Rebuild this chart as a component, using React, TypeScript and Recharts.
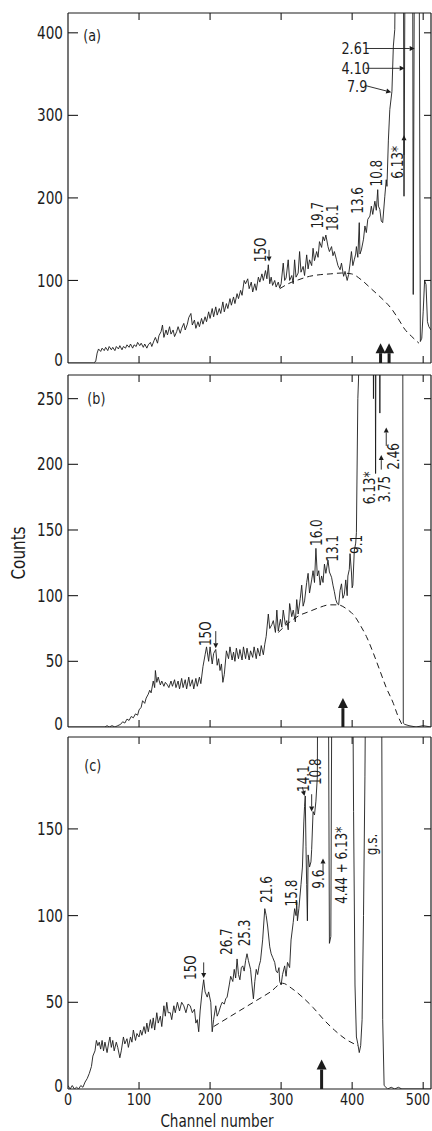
import { Line, LineChart, ReferenceDot, ReferenceLine, XAxis, YAxis } from 'recharts';

const FONT = "'DejaVu Sans', 'Liberation Sans', sans-serif";
const INK = '#1c1c1c';
const NARROW = 0.8; // the original lettering is tall and narrow

type Pair = [number, number];
type Note = { ch: number; count: number; text: string; flat?: boolean };
type Pointer = { from: Pair; to: Pair };

// channel axis shared by the three panels
const channelDomain: [number, number] = [0, 511];
const channelTicks = [0, 100, 200, 300, 400, 500];

const countTicksA = [0, 100, 200, 300, 400];
const countTicksB = [0, 50, 100, 150, 200, 250];
const countTicksC = [0, 50, 100, 150];

// (a) spectrum, [channel, counts]; off-scale peaks run past the top
const spectrumA: Pair[] = [
	[0, 0], [36, 0], [39, 2], [41, 12], [43, 17], [46, 14], [48, 18], [51, 15], [53, 19], [56, 15], [58, 20], [61, 16],
	[63, 19], [66, 15], [68, 20], [71, 17], [73, 21], [76, 16], [78, 20], [81, 18], [83, 22], [86, 19], [88, 23], [91, 18],
	[93, 22], [96, 20], [98, 25], [101, 21], [103, 24], [106, 19], [108, 23], [111, 18], [113, 22], [116, 25], [118, 20],
	[121, 27], [123, 31], [126, 24], [128, 33], [131, 38], [133, 46], [135, 31], [138, 40], [140, 34], [143, 44], [145, 35],
	[148, 40], [150, 32], [153, 38], [155, 44], [158, 36], [160, 42], [163, 48], [165, 40], [168, 47], [170, 55], [173, 60],
	[175, 46], [178, 52], [180, 42], [183, 50], [185, 44], [188, 54], [190, 47], [193, 56], [195, 50], [198, 62], [200, 54],
	[203, 66], [205, 56], [208, 68], [210, 58], [213, 66], [215, 60], [218, 74], [220, 62], [223, 72], [225, 66], [228, 78],
	[230, 70], [233, 80], [235, 72], [238, 84], [240, 78], [243, 88], [245, 82], [248, 100], [250, 96], [253, 102], [255, 90],
	[258, 98], [260, 86], [263, 96], [265, 88], [268, 104], [270, 98], [273, 108], [275, 100], [278, 112], [280, 102],
	[282, 119], [284, 96], [286, 104], [288, 94], [291, 100], [293, 92], [296, 98], [298, 91], [300, 96], [303, 121],
	[305, 100], [307, 103], [310, 125], [312, 100], [315, 106], [317, 96], [319, 125], [321, 104], [324, 109], [326, 135],
	[328, 110], [331, 117], [333, 106], [336, 131], [338, 114], [340, 125], [343, 118], [345, 139], [347, 124], [350, 135],
	[352, 128], [354, 147], [357, 140], [359, 153], [361, 148], [363, 155], [366, 141], [368, 135], [371, 141], [373, 130],
	[375, 135], [378, 125], [380, 118], [383, 113], [385, 121], [388, 105], [390, 111], [393, 100], [395, 107], [397, 120],
	[399, 135], [401, 118], [403, 125], [405, 132], [406, 141], [408, 128], [410, 170], [411, 132], [413, 137], [416, 150],
	[418, 166], [420, 158], [422, 174], [425, 178], [427, 190], [429, 180], [432, 196], [434, 185], [436, 210], [437, 190],
	[439, 186], [441, 172], [443, 170], [446, 202], [448, 222], [449, 214], [451, 270], [453, 307], [456, 329], [458, 384],
	[460, 404], [462, 600], [472, 600], [473, 202], [475, 600], [485, 600], [486, 83], [488, 600], [494, 600], [496, 26],
	[498, 30], [500, 62], [502, 100], [504, 95], [506, 50], [508, 44], [511, 40],
];
const backgroundA: Pair[] = [
	[298, 90], [310, 96], [325, 101], [340, 105], [355, 107], [370, 108], [385, 109], [399, 108], [414, 100], [428, 89],
	[442, 78], [456, 65], [466, 52], [474, 41], [484, 32], [494, 24],
];
const notesA: Note[] = [
	{ ch: 34, count: 397, text: '(a)', flat: true },
	{ ch: 271, count: 137, text: '15O' },
	{ ch: 351, count: 179, text: '19.7' },
	{ ch: 372, count: 176, text: '18.1' },
	{ ch: 407, count: 197, text: '13.6' },
	{ ch: 435, count: 230, text: '10.8' },
	{ ch: 464, count: 243, text: '6.13*' },
	{ ch: 405, count: 381, text: '2.61', flat: true },
	{ ch: 405, count: 357, text: '4.10', flat: true },
	{ ch: 407, count: 335, text: '7.9', flat: true },
];
const pointersA: Pointer[] = [
	{ from: [283, 137], to: [283, 123] },
	{ from: [473, 252], to: [473, 276] },
	{ from: [419, 381], to: [488, 381] },
	{ from: [419, 357], to: [474, 357] },
	{ from: [419, 336], to: [455, 328] },
];
const bigArrowsA: Pair[] = [[440, 24], [452, 24]];

// (b)
const spectrumB: Pair[] = [
	[0, 0], [52, 0], [55, 1], [58, 0], [62, 1], [66, 0], [70, 1], [74, 2], [77, 4], [80, 3], [83, 6], [86, 5], [89, 8],
	[92, 7], [95, 10], [98, 9], [100, 13], [103, 15], [105, 20], [108, 18], [110, 22], [113, 25], [115, 28], [117, 26],
	[120, 35], [122, 30], [123, 43], [125, 34], [127, 38], [130, 32], [132, 35], [135, 31], [137, 34], [140, 32], [142, 30],
	[145, 35], [147, 31], [150, 36], [152, 30], [155, 35], [157, 29], [160, 37], [162, 30], [165, 36], [167, 29], [170, 38],
	[172, 31], [175, 36], [177, 29], [180, 37], [182, 31], [185, 38], [187, 33], [190, 46], [193, 55], [195, 61], [198, 50],
	[200, 61], [203, 48], [205, 56], [208, 59], [210, 47], [212, 52], [214, 43], [216, 48], [218, 34], [220, 40], [223, 58],
	[226, 52], [228, 61], [231, 51], [233, 57], [235, 50], [237, 60], [240, 52], [242, 59], [245, 51], [247, 61], [250, 52],
	[252, 60], [255, 51], [257, 58], [260, 53], [262, 61], [265, 52], [267, 60], [270, 54], [272, 62], [275, 55], [277, 63],
	[279, 69], [282, 86], [284, 75], [287, 78], [289, 81], [292, 72], [294, 89], [296, 73], [299, 82], [301, 76], [303, 89],
	[306, 78], [308, 81], [310, 74], [312, 94], [315, 84], [317, 89], [320, 80], [322, 97], [324, 86], [327, 98], [329, 108],
	[331, 92], [333, 96], [336, 110], [338, 117], [340, 102], [343, 112], [345, 119], [347, 110], [349, 136], [351, 115],
	[353, 119], [355, 108], [357, 115], [359, 110], [361, 124], [363, 117], [366, 127], [368, 118], [371, 114], [373, 108],
	[375, 103], [377, 97], [379, 94], [381, 93], [383, 104], [385, 109], [387, 98], [389, 101], [391, 112], [393, 100],
	[394, 115], [396, 120], [397, 132], [399, 118], [400, 106], [401, 108], [403, 134], [405, 140], [406, 148], [408, 250],
	[409, 265], [411, 400], [429, 400], [430, 250], [431, 400], [432, 400], [433, 193], [434, 400], [438, 400], [439, 239],
	[440, 400], [471, 400], [472, 3], [474, 2], [480, 1], [490, 0], [500, 1], [511, 0],
];
const backgroundB: Pair[] = [
	[296, 72], [310, 79], [326, 85], [340, 88], [354, 91], [368, 93], [380, 93], [392, 90], [404, 84], [412, 77], [420, 69],
	[430, 56], [439, 43], [448, 30], [458, 18], [464, 9], [470, 2],
];
const notesB: Note[] = [
	{ ch: 40, count: 250, text: '(b)', flat: true },
	{ ch: 193, count: 71, text: '15O' },
	{ ch: 350, count: 148, text: '16.0' },
	{ ch: 373, count: 136, text: '13.1' },
	{ ch: 406, count: 139, text: '9.1' },
	{ ch: 425, count: 182, text: '6.13*' },
	{ ch: 446, count: 181, text: '3.75' },
	{ ch: 459, count: 206, text: '2.46' },
];
const pointersB: Pointer[] = [
	{ from: [208, 73], to: [208, 60] },
	{ from: [441, 196], to: [441, 207] },
	{ from: [448, 214], to: [448, 228] },
];
const bigArrowsB: Pair[] = [[387, 22]];

// (c)
const spectrumC: Pair[] = [
	[0, 2], [3, 0], [6, 2], [9, 0], [12, 1], [15, 0], [18, 2], [21, 1], [24, 4], [27, 6], [30, 9], [33, 13], [35, 19],
	[38, 22], [40, 28], [42, 25], [44, 27], [46, 23], [48, 28], [50, 22], [52, 27], [55, 21], [57, 26], [59, 30], [61, 24],
	[63, 28], [65, 22], [68, 27], [70, 24], [73, 18], [75, 22], [78, 30], [80, 26], [83, 29], [85, 24], [88, 30], [90, 27],
	[92, 34], [95, 28], [97, 32], [100, 30], [102, 34], [104, 31], [107, 36], [109, 32], [111, 38], [113, 33], [116, 40],
	[118, 35], [120, 41], [122, 34], [125, 44], [127, 38], [130, 42], [132, 36], [135, 48], [137, 42], [139, 50], [141, 44],
	[144, 44], [146, 40], [149, 48], [151, 44], [154, 50], [157, 45], [160, 50], [163, 48], [166, 44], [169, 49], [172, 48],
	[175, 44], [178, 46], [180, 38], [182, 40], [184, 33], [186, 45], [189, 57], [191, 63], [193, 56], [196, 53], [198, 56],
	[201, 50], [203, 33], [205, 40], [208, 48], [210, 42], [212, 44], [215, 48], [217, 50], [220, 49], [222, 52], [224, 53],
	[227, 60], [229, 65], [232, 62], [234, 69], [236, 64], [238, 75], [240, 66], [242, 63], [244, 70], [246, 71], [248, 68],
	[250, 74], [252, 78], [254, 74], [257, 69], [259, 60], [261, 52], [263, 62], [265, 69], [267, 66], [269, 71], [271, 74],
	[274, 86], [277, 104], [279, 100], [281, 94], [284, 82], [286, 78], [288, 76], [291, 73], [293, 68], [295, 67], [297, 70],
	[298, 62], [300, 60], [302, 66], [305, 71], [307, 65], [309, 73], [312, 70], [314, 86], [317, 96], [319, 104], [321, 100],
	[322, 108], [323, 97], [325, 104], [328, 118], [330, 128], [332, 154], [333, 163], [334, 169], [335, 140], [336, 118],
	[337, 97], [338, 135], [340, 128], [342, 131], [343, 138], [345, 160], [347, 158], [349, 166], [351, 180], [352, 300],
	[366, 300], [368, 84], [370, 88], [372, 300], [400, 300], [402, 160], [404, 60], [406, 30], [408, 26], [410, 21],
	[412, 25], [414, 40], [416, 100], [418, 180], [420, 300], [441, 300], [443, 40], [445, 2], [450, 0], [455, 1], [460, 0],
	[465, 1], [470, 0], [480, 0], [511, 0],
];
const backgroundC: Pair[] = [
	[205, 36], [225, 41], [245, 46], [265, 51], [285, 56], [302, 61], [315, 58], [330, 53], [345, 47], [360, 40], [375, 34],
	[390, 29], [408, 25],
];
const notesC: Note[] = [
	{ ch: 35, count: 187, text: '(c)', flat: true },
	{ ch: 172, count: 70, text: '15O' },
	{ ch: 223, count: 85, text: '26.7' },
	{ ch: 249, count: 90, text: '25.3' },
	{ ch: 280, count: 115, text: '21.6' },
	{ ch: 315, count: 113, text: '15.8' },
	{ ch: 331, count: 179, text: '14.1' },
	{ ch: 348, count: 183, text: '10.8' },
	{ ch: 353, count: 121, text: '9.6' },
	{ ch: 385, count: 129, text: '4.44 + 6.13*' },
	{ ch: 427, count: 141, text: 'g.s.' },
];
const pointersC: Pointer[] = [
	{ from: [191, 73], to: [191, 64] },
	{ from: [343, 170], to: [343, 160] },
	{ from: [359, 125], to: [359, 133] },
	{ from: [330, 174], to: [333, 169] },
];
const bigArrowsC: Pair[] = [[357, 17]];

const toRows = (pairs: Pair[]) => pairs.map(([ch, count]) => ({ ch, count }));

const frame = { stroke: INK, strokeWidth: 1.2 };

// text squeezed horizontally to look like the narrow lettering
const Narrow = ({ x, y, size, anchor = 'middle', rotate = false, children }: any) => (
	<g transform={`translate(${x} ${y})${rotate ? ' rotate(-90)' : ''} scale(${NARROW} 1)`}>
		<text x={0} y={0} dy='0.36em' textAnchor={anchor} fontSize={size} fontFamily={FONT} fill={INK}>
			{children}
		</text>
	</g>
);

const LeftTick = ({ x, y, payload }: any) => (
	<g>
		{payload.value !== 0 && <line x1={x} x2={x + 10} y1={y} y2={y} stroke={INK} strokeWidth={1.1} />}
		<Narrow x={x - 5} y={payload.value === 0 ? y - 3 : y} size={17} anchor='end'>
			{payload.value}
		</Narrow>
	</g>
);

const RightTick = ({ x, y, payload }: any) =>
	payload.value === 0 ? <g /> : <line x1={x - 7} x2={x} y1={y} y2={y} stroke={INK} strokeWidth={1.1} />;

const TopTick = ({ x, y, payload }: any) =>
	payload.value === 0 ? <g /> : <line x1={x} x2={x} y1={y} y2={y + 7} stroke={INK} strokeWidth={1.1} />;

const BottomTick = ({ x, y, payload, labelled }: any) => {
	const last = payload.value === channelTicks[channelTicks.length - 1];
	return (
		<g>
			{payload.value !== 0 && <line x1={x} x2={x} y1={y} y2={y - 7} stroke={INK} strokeWidth={1.1} />}
			{labelled && (
				<Narrow x={last ? x + 7 : x} y={y + 10} size={16} anchor={last ? 'end' : 'middle'}>
					{payload.value}
				</Narrow>
			)}
		</g>
	);
};

const noteShape = (note: Note) => (p: any) => (
	<Narrow x={p.cx ?? 0} y={p.cy ?? 0} size={note.flat ? 16 : 15} rotate={!note.flat}>
		{note.text}
	</Narrow>
);

const arrowShape = (weight: number, head: number) => (p: any) => {
	const { x1, y1, x2, y2 } = p;
	const a = Math.atan2(y2 - y1, x2 - x1);
	const bx = x2 - head * Math.cos(a);
	const by = y2 - head * Math.sin(a);
	const wx = -Math.sin(a) * head * 0.5;
	const wy = Math.cos(a) * head * 0.5;
	return (
		<g>
			<line x1={x1} y1={y1} x2={bx} y2={by} stroke={INK} strokeWidth={weight} />
			<path d={`M${x2},${y2}L${bx + wx},${by + wy}L${bx - wx},${by - wy}Z`} fill={INK} />
		</g>
	);
};

type PanelProps = {
	top: number;
	plotHeight: number;
	countMax: number;
	countTicks: number[];
	spectrum: Pair[];
	background: Pair[];
	notes: Note[];
	pointers: Pointer[];
	bigArrows: Pair[];
	showChannels?: boolean;
};

const Panel = ({ top, plotHeight, countMax, countTicks, spectrum, background, notes, pointers, bigArrows, showChannels }: PanelProps) => {
	const bottomH = showChannels ? 22 : 8;
	return (
		<div style={{ position: 'absolute', left: 0, top }}>
			<LineChart width={432} height={plotHeight + 1 + bottomH} margin={{ top: 0, right: 0, bottom: 0, left: 0 }}>
				<XAxis
					type='number'
					dataKey='ch'
					domain={channelDomain}
					ticks={channelTicks}
					interval={0}
					allowDataOverflow
					height={bottomH}
					tickSize={0}
					tickMargin={0}
					tickLine={false}
					axisLine={frame}
					tick={(p: any) => <BottomTick {...p} labelled={showChannels} />}
				/>
				<XAxis
					xAxisId='top'
					orientation='top'
					type='number'
					dataKey='ch'
					domain={channelDomain}
					ticks={channelTicks}
					interval={0}
					allowDataOverflow
					height={1}
					tickSize={0}
					tickMargin={0}
					tickLine={false}
					axisLine={frame}
					tick={(p: any) => <TopTick {...p} />}
				/>
				<YAxis
					type='number'
					domain={[0, countMax]}
					ticks={countTicks}
					interval={0}
					allowDataOverflow
					width={68}
					tickSize={0}
					tickMargin={0}
					tickLine={false}
					axisLine={frame}
					tick={(p: any) => <LeftTick {...p} />}
				/>
				<YAxis
					yAxisId='right'
					orientation='right'
					type='number'
					domain={[0, countMax]}
					ticks={countTicks}
					interval={0}
					allowDataOverflow
					width={1}
					tickSize={0}
					tickMargin={0}
					tickLine={false}
					axisLine={frame}
					tick={(p: any) => <RightTick {...p} />}
				/>
				<Line
					data={toRows(background)}
					dataKey='count'
					type='monotone'
					stroke={INK}
					strokeWidth={1}
					strokeDasharray='6 4'
					dot={false}
					isAnimationActive={false}
				/>
				<Line
					data={toRows(spectrum)}
					dataKey='count'
					type='linear'
					stroke={INK}
					strokeWidth={0.9}
					dot={false}
					isAnimationActive={false}
				/>
				{bigArrows.map(([ch, tip]) => (
					<ReferenceLine
						key={`big-${ch}`}
						segment={[{ x: ch, y: 0 }, { x: ch, y: tip }]}
						ifOverflow='visible'
						shape={arrowShape(3, 10)}
					/>
				))}
				{pointers.map((pt, i) => (
					<ReferenceLine
						key={`ptr-${i}`}
						segment={[{ x: pt.from[0], y: pt.from[1] }, { x: pt.to[0], y: pt.to[1] }]}
						ifOverflow='visible'
						shape={arrowShape(0.9, 5)}
					/>
				))}
				{notes.map((n) => (
					<ReferenceDot key={`note-${n.text}`} x={n.ch} y={n.count} ifOverflow='visible' shape={noteShape(n)} />
				))}
			</LineChart>
		</div>
	);
};

const App = () => (
	<div style={{ position: 'absolute', left: 0, top: 0, width: 432, height: 1131, background: '#fff', overflow: 'hidden' }}>
		<Panel
			top={12}
			plotHeight={350}
			countMax={424}
			countTicks={countTicksA}
			spectrum={spectrumA}
			background={backgroundA}
			notes={notesA}
			pointers={pointersA}
			bigArrows={bigArrowsA}
		/>
		<Panel
			top={374}
			plotHeight={352}
			countMax={268}
			countTicks={countTicksB}
			spectrum={spectrumB}
			background={backgroundB}
			notes={notesB}
			pointers={pointersB}
			bigArrows={bigArrowsB}
		/>
		<Panel
			top={736}
			plotHeight={352}
			countMax={203}
			countTicks={countTicksC}
			spectrum={spectrumC}
			background={backgroundC}
			notes={notesC}
			pointers={pointersC}
			bigArrows={bigArrowsC}
			showChannels
		/>
		<div
			style={{
				position: 'absolute',
				left: -22,
				top: 543,
				width: 80,
				height: 20,
				lineHeight: '20px',
				textAlign: 'center',
				transform: `rotate(-90deg) scaleX(${NARROW})`,
				fontFamily: FONT,
				fontSize: 19,
				color: INK,
			}}>
			Counts
		</div>
		<div
			style={{
				position: 'absolute',
				left: 117,
				top: 1112,
				width: 200,
				height: 18,
				lineHeight: '18px',
				textAlign: 'center',
				transform: `scaleX(${NARROW})`,
				fontFamily: FONT,
				fontSize: 17,
				color: INK,
			}}>
			Channel number
		</div>
	</div>
);

export default App;
